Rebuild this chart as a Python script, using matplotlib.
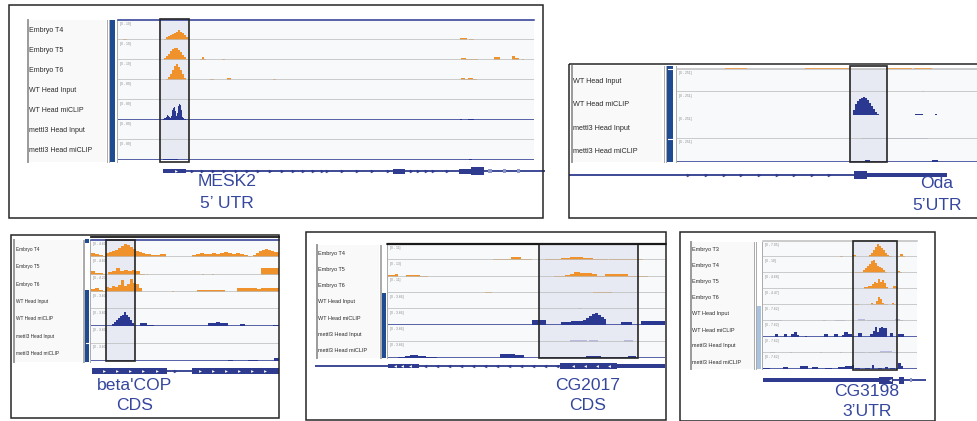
import matplotlib
matplotlib.use("Agg")
import matplotlib.pyplot as plt
from matplotlib.patches import Rectangle

plt.rcParams["font.family"] = ["Liberation Sans", "DejaVu Sans"]

# ---------------- track names and scale ranges ----------------
names_full = ["Embryo T4", "Embryo T5", "Embryo T6", "WT Head Input",
              "WT Head miCLIP", "mettl3 Head Input", "mettl3 Head miCLIP"]
names_head = ["WT Head Input", "WT Head miCLIP", "mettl3 Head Input", "mettl3 Head miCLIP"]
names_cg3198 = ["Embryo T3", "Embryo T4", "Embryo T5", "Embryo T6", "WT Head Input",
                "WT Head miCLIP", "mettl3 Head Input", "mettl3 Head miCLIP"]

scales_mesk2 = ["[0 - 19]", "[0 - 19]", "[0 - 19]", "[0 - 89]", "[0 - 89]", "[0 - 89]", "[0 - 89]"]
scales_oda = ["[0 - 251]", "[0 - 251]", "[0 - 251]", "[0 - 251]"]
scales_betacop = ["[0 - 4.60]", "[0 - 4.60]", "[0 - 4.20]", "[0 - 3.60]", "[0 - 3.60]", "[0 - 3.60]", "[0 - 3.60]"]
scales_cg2017 = ["[0 - 11]", "[0 - 13]", "[0 - 11]", "[0 - 3.66]", "[0 - 3.66]", "[0 - 3.66]", "[0 - 3.66]"]
scales_cg3198 = ["[0 - 7.05]", "[0 - 10]", "[0 - 4.68]", "[0 - 4.47]", "[0 - 7.62]", "[0 - 7.62]", "[0 - 7.62]", "[0 - 7.62]"]

# ---------------- coverage: runs of (start, bin width, heights) ----------------
mesk2_cov = [
    [(5, 4, [1]), (46, 2, [1, 3, 4, 5, 6, 7, 8, 10, 8, 7, 5, 3, 1]), (342, 7, [1.7]), (351, 5, [1])],
    [(46, 2, [2, 4, 6, 9, 11, 12, 12, 10, 8, 5, 3, 1]), (82, 2, [1, 3, 1]), (104, 3, [1.5]),
     (343, 5, [2]), (348, 4, [1]), (352, 8, [1]), (376, 6, [3]), (394, 3, [4]), (397, 4, [2.5]), (404, 2, [1.5])],
    [(48, 2, [1, 3, 6, 10, 14, 16, 13, 10, 6, 2]), (70, 2, [1]), (92, 4, [1.5]), (109, 4, [2]), (155, 3, [1]),
     (343, 4, [2]), (347, 3, [1]), (350, 5, [2.5]), (355, 4, [0.7])],
    [],
    [(45, 1, [1.5, 2, 2, 3, 5, 4, 3, 2, 4, 10, 12, 13, 9, 4, 7, 14, 16, 15, 10, 3, 2, 1, 1]),
     (342, 2, [0.8]), (350, 6, [0.8])],
    [],
    [(45, 9, [1.5]), (54, 3, [0.7]), (57, 3, [1]), (351, 3, [1])],
]

oda_upper_edge = [(48, 22, [1.5]), (128, 45, [1.5]), (211, 24, [1.5]), (237, 18, [1.5])]
oda_cov = [
    [(245, 2, [0.8])],
    [(176, 2, [6, 12, 15, 17, 18, 19, 18, 16, 13, 10, 7, 4, 2]), (202, 21, [1]), (238, 8, [2]),
     (246, 12, [0.8]), (258, 2, [2]), (260, 6, [1])],
    [(185, 66, [0.4])],
    [(188, 5, [2]), (255, 6, [2])],
]

betacop_cov = [
    [(0, 4, [4, 3, 2, 1.5]), (15, 3, [4, 5, 6, 7, 9, 11, 13, 12, 10, 8, 6, 5, 4, 3, 3, 2.5, 2, 2, 3, 3]),
     (101, 4, [2, 3, 4, 3, 3, 4, 3, 4, 5, 4, 3, 4, 3, 2, 1.5]), (162, 3, [2, 4, 6, 7, 8, 7, 6, 5, 5])],
    [(0, 4, [4, 1.5, 1.5, 1]), (17, 4, [3, 4, 6.5, 4, 5, 4, 4.5, 4]), (49, 5, [1]), (56, 1, [0.7]),
     (111, 2, [0.7]), (121, 2, [0.7]), (170, 4, [7, 7, 7, 7, 7])],
    [(0, 4, [3, 4, 2, 1]), (15, 3, [5, 4, 6, 5, 7, 12, 6, 8, 13, 9, 8, 4]), (81, 2, [0.8]),
     (106, 4, [1.5, 1.5, 1.5, 1.5, 1.5, 1.5, 1.5]), (146, 4, [4, 4, 3.5, 3.5, 3.5, 3, 3.5, 4, 3.5, 4, 4])],
    [],
    [(21, 2, [2, 4, 6, 8, 10, 11, 14, 11, 9, 6, 3]), (49, 7, [3]), (56, 7, [1.5]), (117, 4, [3, 3, 4, 3, 3]),
     (149, 5, [2]), (182, 6, [1.5])],
    [],
    [(137, 5, [1.5]), (157, 10, [1.5]), (183, 5, [3])],
]

cg2017_cov = [
    [(105, 18, [1]), (123, 10, [3]), (133, 11, [1.5]), (157, 16, [1]), (173, 9, [2]), (182, 6, [3.5]),
     (188, 7, [3]), (195, 10, [2]), (205, 15, [1]), (221, 23, [1]), (244, 11, [1]), (255, 8, [0.5])],
    [(0, 7, [1.5]), (7, 3, [2.5]), (18, 14, [1.5]), (32, 8, [0.5]), (166, 11, [1]), (177, 5, [2]), (182, 4, [3]),
     (186, 6, [4.5]), (192, 12, [3.5]), (204, 5, [3]), (209, 8, [0.5]), (217, 23, [2.5]), (240, 20, [0.5])],
    [(97, 7, [0.5]), (205, 19, [0.5])],
    [(190, 4, [1.5])],
    [(144, 14, [5.5]), (173, 5, [3]), (178, 5, [3.5]), (183, 4, [4]), (187, 4, [4.5]), (191, 4, [4]),
     (195, 3, [5]), (198, 3, [7]), (201, 3, [9]), (204, 3, [11]), (207, 3, [12]), (210, 3, [10]),
     (213, 3, [8]), (216, 2, [6]), (233, 11, [3.5]), (253, 24, [4.5])],
    [(182, 17, [1.5]), (201, 9, [1.5]), (236, 9, [1.5])],
    [(10, 7, [1]), (17, 5, [2.5]), (22, 8, [3]), (30, 8, [2]), (38, 11, [1]), (89, 23, [0.5]), (112, 15, [4]),
     (127, 9, [3]), (136, 36, [0.5]), (198, 15, [2.5]), (213, 19, [0.5]), (232, 8, [1.5]), (240, 8, [2.5]),
     (248, 4, [0.5])],
]

cg3198_cov = [
    [(77, 3, [1]), (89, 4, [2.5]), (93, 13, [0.5]), (106, 2, [2, 4, 7, 10, 13, 11, 9, 7, 4, 2]), (126, 3, [1]),
     (135, 2, [1.5]), (137, 3, [3]), (140, 2, [1])],
    [(92, 8, [1.5]), (100, 2, [3, 5, 7, 9, 12, 13, 10, 7, 6, 5, 3, 1]), (124, 9, [0.5]), (135, 2, [2]), (137, 2, [1])],
    [(101, 2, [2, 2, 3, 3, 5, 7, 6, 10, 7, 9, 6, 2]), (125, 5, [0.5]), (130, 3, [3]), (133, 2, [2])],
    [(92, 4, [1]), (108, 2, [2.5]), (110, 3, [1]), (113, 2, [4]), (115, 2, [8]), (117, 2, [6]), (119, 2, [2]),
     (121, 4, [1]), (129, 2, [2]), (131, 2, [1])],
    [(7, 12, [1.2]), (60, 3, [1]), (72, 10, [1.2]), (95, 7, [2]), (104, 6, [1.5]), (110, 5, [1]), (115, 6, [1.5]),
     (121, 6, [1]), (127, 5, [1.5]), (132, 5, [2]), (137, 3, [1])],
    [(12, 3, [3]), (21, 3, [3]), (28, 3, [3]), (31, 3, [5]), (34, 2, [2]), (42, 2, [1]), (61, 4, [3]), (71, 4, [3]),
     (79, 2, [2]), (81, 4, [5]), (85, 4, [3]), (89, 2, [1]), (95, 4, [4]), (107, 3, [3]), (110, 2, [6]),
     (112, 2, [10]), (114, 2, [5]), (116, 2, [9]), (118, 2, [10]), (120, 4, [9]), (127, 3, [4]), (135, 6, [3])],
    [(7, 5, [1]), (27, 2, [1]), (57, 2, [1]), (77, 2, [1]), (92, 10, [1.5]), (105, 12, [1.2]), (117, 12, [1.8]),
     (130, 4, [1.2])],
    [(0, 7, [1]), (20, 5, [2]), (37, 8, [3]), (49, 6, [2]), (62, 7, [1.5]), (75, 7, [2]), (82, 7, [3.5]),
     (89, 2, [4]), (92, 5, [1]), (102, 5, [1.5]), (109, 2, [4]), (115, 4, [1]), (122, 3, [2]), (127, 5, [1]),
     (135, 3, [6]), (138, 2, [3])],
]

# highlighted feature windows (same coordinates as coverage)
highlights = {"MESK2": (42, 71), "Oda": (173, 210), "beta'COP": (15, 44), "CG2017": (151, 250), "CG3198": (90, 134)}

# ---------------- gene models ----------------
mesk2_gene = dict(span=(45, 427), strand="+",
                  exons=[(45, 68, 4.5), (275, 287, 5), (341, 353, 5), (353, 366, 8)],
                  faint=[(370, 374), (385, 388), (399, 402)],
                  arrows=[74, 84, 95, 106, 118, 129, 140, 152, 164, 175, 185, 195, 204, 209, 224, 239, 254, 270,
                          293, 300, 308, 315, 329],
                  chevrons=[58])
oda_gene = dict(span=(-108, 270), strand="+",
                exons=[(177, 190, 8), (190, 270, 4)], faint=[],
                arrows=[11, 29, 47, 64, 82, 100, 117, 135, 152], chevrons=[])
betacop_gene = dict(span=(1, 188), strand="+",
                    exons=[(1, 76, 6.5), (101, 188, 6.5)], faint=[],
                    arrows=[84], chevrons=[13, 26, 39, 52, 66, 109, 122, 135, 148, 161, 174])
cg2017_gene = dict(span=(-73, 277), strand="-",
                   exons=[(0, 31, 4.5), (172, 229, 6.5), (229, 277, 4.5)], faint=[],
                   arrows=[37, 49, 61, 73, 85, 97, 109, 121, 133, 145, 157, 169],
                   chevrons=[7, 14, 22, 185, 197, 209, 221])
cg3198_gene = dict(span=(0, 163), strand="-",
                   exons=[(0, 116, 4), (116, 130, 7), (136, 141, 7)], faint=[(147, 149)],
                   arrows=[], chevrons=[127])

# ---------------- styling ----------------
ORANGE = "#F0922B"
NAVY = "#2B3891"
LAVENDER = "#B9BADF"
GRID = "#BEBEBE"
ROWBG = "#F8F9FB"
HILITE = "#E7EAF3"
TITLE = "#35469D"
GENE = "#2E3B8E"
BAR_BLUE = "#1F4B93"
BAR_LIGHT = "#A9C2DF"

W, H = 978, 421
fig = plt.figure(figsize=(W / 100, H / 100), dpi=100)
fig.patch.set_facecolor("white")


def box(x0, y0, x1, y1, z=1):
    return fig.add_axes([x0 / W, 1 - y1 / H, (x1 - x0) / W, (y1 - y0) / H], zorder=z)


bg = box(0, 0, W, H, z=0)
bg.set_xlim(0, W)
bg.set_ylim(H, 0)
bg.axis("off")
fg = box(0, 0, W, H, z=20)
fg.set_xlim(0, W)
fg.set_ylim(H, 0)
fg.axis("off")


def track_color(name):
    if name.startswith("Embryo"):
        return ORANGE
    if name.endswith("Input"):
        return LAVENDER
    return NAVY


def draw_runs(ax, runs, color):
    for start, step, heights in runs:
        xs = [start + i * step for i in range(len(heights))]
        ax.bar(xs, heights, width=step, align="edge", color=color, linewidth=0, zorder=2)


def draw_gene(ax, g):
    ax.plot(g["span"], [0, 0], color=GENE, lw=1.3, solid_capstyle="butt", zorder=1)
    for s, e, h in g["exons"]:
        ax.add_patch(Rectangle((s, -h / 2), e - s, h, color=GENE, lw=0, zorder=2))
    for s, e in g["faint"]:
        ax.add_patch(Rectangle((s, -2), e - s, 4, color="#8C95C8", lw=0, zorder=2))
    m = ">" if g["strand"] == "+" else "<"
    if g["arrows"]:
        ax.plot(g["arrows"], [0] * len(g["arrows"]), ls="none", marker=m, ms=2.2,
                mfc=GENE, mec=GENE, mew=0.3, zorder=3)
    if g["chevrons"]:
        ax.plot(g["chevrons"], [0] * len(g["chevrons"]), ls="none", marker=m, ms=2.0,
                mfc="white", mec="white", mew=0, zorder=3)


panels = [
    dict(key="MESK2", frame=(9, 5, 543, 218), labels=(27, 20, 106, 162), seps=[106.5, 108.5, 116.5],
         bar=(110, 115, [(20, 162)], [], BAR_BLUE), tracks=(118, 20, 534, 160), names=names_full,
         scales=scales_mesk2, cov=mesk2_cov, top="navy", name_x=29, name_fs=5.0, hl_y=(19, 162),
         gene=mesk2_gene, gene_x=(118, 545), gene_y=171, title=("MESK2", "5\u2019 UTR"), title_xy=(227, 182, 204)),
    dict(key="Oda", frame=(569, 64, 990, 218), labels=(571, 66, 662, 162), seps=[663.5, 665.5, 675.5],
         bar=(667, 673, [(66, 162)], [69, 139], BAR_BLUE), tracks=(677, 69, 978, 162), names=names_head,
         scales=scales_oda, cov=oda_cov, top="gray", name_x=573, name_fs=5.2, hl_y=(66, 162),
         gene=oda_gene, gene_x=(569, 978), gene_y=175, title=("Oda", "5\u2019UTR"), title_xy=(937, 184, 205)),
    dict(key="beta'COP", frame=(11, 235, 279, 418), labels=(13, 240, 82, 362), seps=[82.5, 84.2, 90.2],
         bar=(85, 89, [(239, 243), (290, 362)], [343], BAR_BLUE), tracks=(91, 240, 279, 361), names=names_full,
         scales=scales_betacop, cov=betacop_cov, top="navy", name_x=16, name_fs=3.4, hl_y=(240, 361),
         gene=betacop_gene, gene_x=(91, 280), gene_y=371, title=("beta'COP", "CDS"), title_xy=(135, 386, 405)),
    dict(key="CG2017", frame=(306, 232, 666, 420), labels=(316, 245, 379, 358), seps=[379.5, 381.2, 387.2],
         bar=(382, 386, [(293, 358)], [], BAR_BLUE), tracks=(388, 244, 665, 358), names=names_full,
         scales=scales_cg2017, cov=cg2017_cov, top="black", name_x=318, name_fs=4.0, hl_y=(244, 358),
         gene=cg2017_gene, gene_x=(312, 665), gene_y=366, title=("CG2017", "CDS"), title_xy=(588, 385, 406)),
    dict(key="CG3198", frame=(680, 232, 935, 421), labels=(690, 242, 754, 369), seps=[754.2, 755.7, 762.2],
         bar=(756, 761, [(306, 369)], [], BAR_LIGHT), tracks=(763, 241, 917, 369), names=names_cg3198,
         scales=scales_cg3198, cov=cg3198_cov, top="gray", name_x=692, name_fs=4.0, hl_y=(241, 370),
         gene=cg3198_gene, gene_x=(760, 930), gene_y=380, title=("CG3198", "3\u2019UTR"), title_xy=(867, 391, 411)),
]

for p in panels:
    fx0, fy0, fx1, fy1 = p["frame"]
    fg.add_patch(Rectangle((fx0, fy0), fx1 - fx0, fy1 - fy0, fill=False, ec="#262626", lw=1.1))

    # name column
    lx0, ly0, lx1, ly1 = p["labels"]
    bg.add_patch(Rectangle((lx0, ly0), lx1 - lx0, ly1 - ly0, color="#F9F9FA", lw=0))
    bg.plot([lx0 + 0.5, lx0 + 0.5], [ly0, ly1], color="#9A9A9A", lw=1.4)
    for sx in p["seps"]:
        bg.plot([sx, sx], [ly0, ly1], color="#AAAAAA", lw=0.7)
    bx0, bx1, segs, notches, bcol = p["bar"]
    for s0, s1 in segs:
        bg.add_patch(Rectangle((bx0, s0), bx1 - bx0, s1 - s0, color=bcol, lw=0))
    for ny in notches:
        bg.plot([bx0 + 1, bx1 - 1], [ny, ny], color="white", lw=0.8)

    tx0, ty0, tx1, ty1 = p["tracks"]
    L = tx1 - tx0
    n = len(p["names"])
    rh = (ty1 - ty0) / n
    hl0, hl1 = highlights[p["key"]]
    for i, (name, scale, runs) in enumerate(zip(p["names"], p["scales"], p["cov"])):
        r0 = ty0 + i * rh
        ax = box(tx0, r0, tx1, r0 + rh, z=2)
        ax.set_xlim(0, L)
        ax.set_ylim(0, rh)
        ax.set_facecolor(ROWBG)
        for sp in ax.spines.values():
            sp.set_visible(False)
        ax.set_xticks([])
        ax.set_yticks([])
        ax.axvspan(hl0, hl1, color=HILITE, lw=0, zorder=1)
        col = track_color(name)
        draw_runs(ax, runs, col)
        base = NAVY if col == NAVY else GRID
        ax.axhline(0, color=base, lw=1.1, zorder=3)
        if i == 0:
            topcol = {"navy": NAVY, "gray": GRID, "black": "#1A1A1A"}[p["top"]]
            ax.axhline(rh, color=topcol, lw=1.6 if p["top"] == "black" else 1.1, zorder=3, clip_on=False)
        ax.annotate(scale, xy=(0, 1), xycoords="axes fraction", xytext=(1.5, -1.2),
                    textcoords="offset points", ha="left", va="top", fontsize=2.4, color="#8A8A8A")
        bg.text(p["name_x"], r0 + rh / 2 + 1, name, ha="left", va="center",
                fontsize=p["name_fs"], color="#2A2A2A")

    # highlighted feature outline
    hy0, hy1 = p["hl_y"]
    hax = box(tx0, hy0, tx1, hy1, z=5)
    hax.set_xlim(0, L)
    hax.set_ylim(0, 1)
    hax.axis("off")
    hax.add_patch(Rectangle((hl0, 0), hl1 - hl0, 1, fill=False, ec="#262626", lw=1.2, clip_on=False))

    # gene model on the same coordinate scale
    gx0, gx1 = p["gene_x"]
    gy = p["gene_y"]
    gax = box(gx0, gy - 10, gx1, gy + 10, z=3)
    gax.set_xlim(gx0 - tx0, gx1 - tx0)
    gax.set_ylim(-10, 10)
    gax.axis("off")
    draw_gene(gax, p["gene"])

    t1, t2 = p["title"]
    cx, cy1, cy2 = p["title_xy"]
    fg.text(cx, cy1, t1, ha="center", va="center", fontsize=12.6, color=TITLE)
    fg.text(cx, cy2, t2, ha="center", va="center", fontsize=12.6, color=TITLE)

# bottom edge of the embryo tracks stacked above the Oda head tracks
edge = box(677, 64.5, 978, 69, z=2)
edge.set_xlim(0, 301)
edge.set_ylim(0, 4.5)
edge.axis("off")
draw_runs(edge, oda_upper_edge, "#E9A35A")

# heavy rules over the beta'COP and CG2017 track stacks
fg.plot([91, 279], [237, 237], color="#1A1A1A", lw=1.3)
fg.plot([387, 666], [244, 244], color="#1A1A1A", lw=1.1)

fig.savefig("out.png", dpi=100, facecolor="white")
